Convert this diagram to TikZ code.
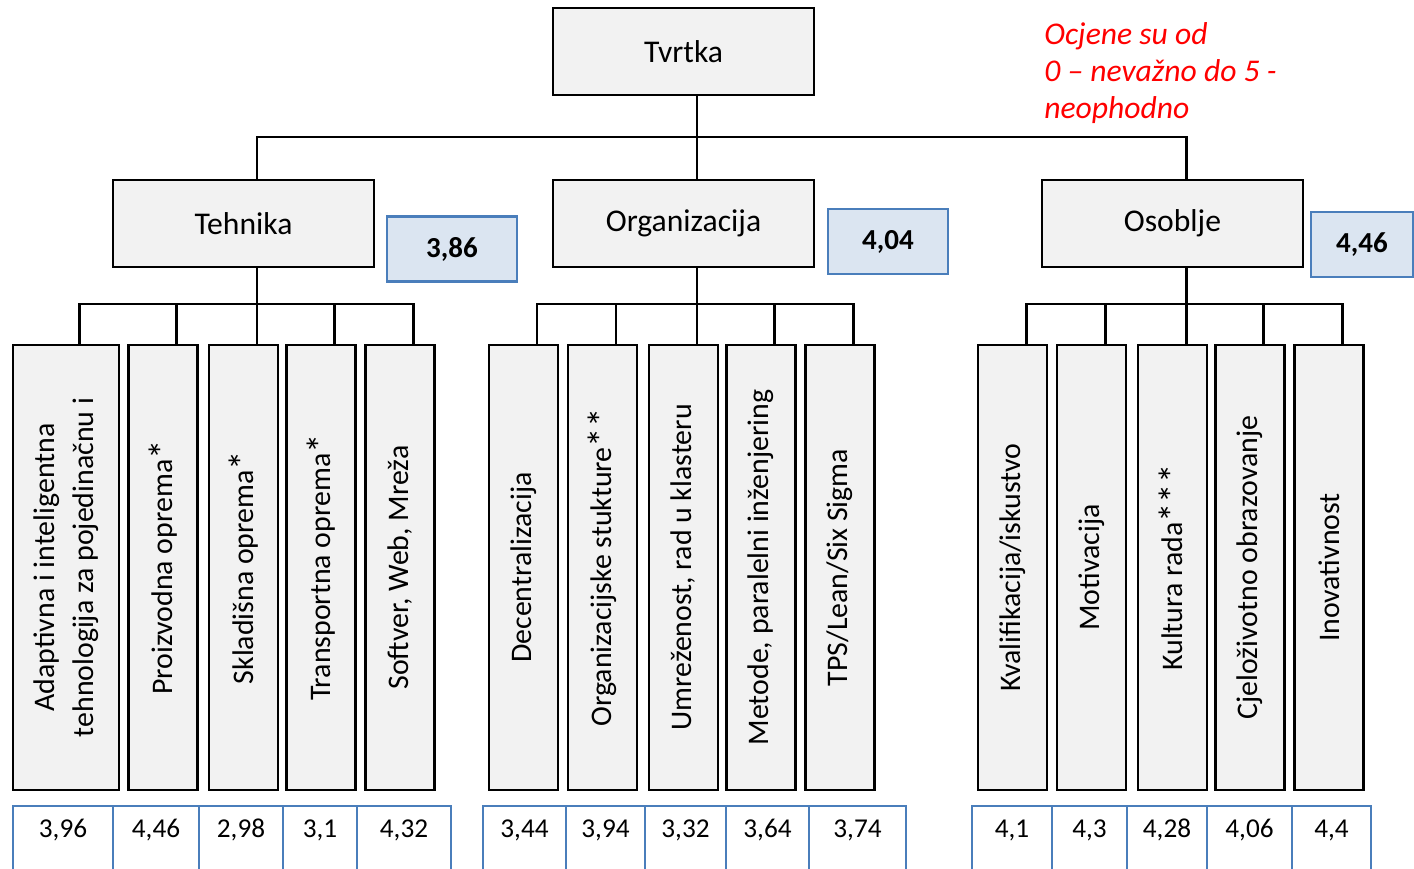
\documentclass[tikz,border=0pt]{standalone}
\usepackage{fontspec}
\setmainfont{Carlito}
\usepackage{graphicx}

\definecolor{boxgray}{HTML}{F2F2F2}
\definecolor{scoreblue}{HTML}{DBE5F1}
\definecolor{edgeblue}{HTML}{4A7EBB}

% larger footnote star
\newcommand{\fstar}{\raisebox{-0.12em}{\scalebox{1.3}{*}}}

\tikzset{
  unit/.style={draw, line width=1.6pt, fill=boxgray, font=\fontsize{18}{22}\selectfont,
    minimum width=5.22cm, minimum height=1.74cm},
  leaf/.style={draw, line width=1.6pt, fill=boxgray, font=\fontsize{17}{22}\selectfont,
    minimum width=1.38cm, minimum height=8.9cm, inner sep=0pt},
  score/.style={draw=edgeblue, line width=1.2pt, fill=scoreblue,
    font=\fontsize{16.5}{20}\selectfont\bfseries, minimum height=1.3cm},
  cell/.style={draw=edgeblue, line width=1.3pt, anchor=north, inner ysep=0pt,
    text height=0.63cm, text depth=0.97cm, font=\fontsize{15.5}{18}\selectfont},
  link/.style={line width=1.7pt}
}

\begin{document}
\begin{tikzpicture}[x=0.02cm, y=-0.02cm]
  \useasboundingbox (0,0) rectangle (1414,869);
  \clip (0,0) rectangle (1414,869);

  % upper levels
  \node[unit] (tvrtka) at (683.5,51.5) {Tvrtka};
  \node[unit] (teh) at (243.5,223.5) {Tehnika};
  \node[unit] (org) at (683.5,223.5) {Organizacija};
  \node[unit] (oso) at (1172.5,223.5) {Osoblje};

  \node[score, minimum width=2.6cm] (steh) at (452,249) {3,86};
  \node[score, minimum width=2.4cm] (sorg) at (888,241.5) {4,04};
  \node[score, minimum width=2.04cm] (soso) at (1362,244.5) {4,46};

  \node[text=red, font=\fontsize{18}{21}\selectfont\itshape, align=left,
    anchor=north west, inner sep=0pt] (note) at (1044,22)
    {Ocjene su od\\0 – nevažno do 5 -\\neophodno};

  % leaves
  \node[leaf, minimum width=2.12cm] (t1) at (66,567.5)
    {\rotatebox{90}{\begin{tabular}{@{}c@{}}Adaptivna i inteligentna\\tehnologija za pojedinačnu i\end{tabular}}};
  \foreach \n/\x/\t in {t2/163/{Proizvodna oprema\fstar}, t3/243.5/{Skladišna oprema\fstar},
      t4/321/{Transportna oprema\fstar}, t5/400/{Softver, Web, Mreža},
      o1/523.5/{Decentralizacija}, o2/602.5/{Organizacijske stukture\fstar\fstar},
      o3/683.5/{Umreženost, rad u klasteru}, o4/761/{Metode, paralelni inženjering},
      o5/840/{TPS/Lean/Six Sigma},
      p1/1012.5/{Kvalifikacija/iskustvo}, p2/1091.5/{Motivacija},
      p3/1172.5/{Kultura rada\fstar\fstar\fstar}, p4/1250/{Cjeloživotno obrazovanje},
      p5/1329/{Inovativnost}}
    \node[leaf] (\n) at (\x,567.5) {\rotatebox{90}{\t}};

  % connector points, a bit right of the box centres
  \def\off{0.27cm}
  \coordinate (top) at (0,137);
  \coordinate (low) at (0,304);
  \foreach \n in {tvrtka,teh,org,oso,t1,t2,t3,t4,t5,o1,o2,o3,o4,o5,p1,p2,p3,p4,p5}{
    \coordinate (\n-n) at ([xshift=\off]\n.north);
    \coordinate (\n-s) at ([xshift=\off]\n.south);
  }

  \draw[link] (tvrtka-s) -- (org-n);
  \draw[link] (teh-n) |- (oso-n |- top) -- (oso-n);

  \draw[link] (t1-n) |- (t5-n |- low) -- (t5-n);
  \draw[link] (teh-s) -- (t3-n);
  \draw[link] (o1-n) |- (o5-n |- low) -- (o5-n);
  \draw[link] (org-s) -- (o3-n);
  \draw[link] (p1-n) |- (p5-n |- low) -- (p5-n);
  \draw[link] (oso-s) -- (p3-n);
  \foreach \n in {t2,t4,o2,o4,p2,p4}
    \draw[link] (\n-n) -- (\n-n |- low);

  % values
  \foreach \a/\b/\v in {13/113/{3,96}, 113/199/{4,46}, 199/283/{2,98}, 283/357/{3,1},
      357/451/{4,32}, 483/566/{3,44}, 566/645/{3,94}, 645/726/{3,32}, 726/809/{3,64},
      809/906/{3,74}, 972/1052/{4,1}, 1052/1127/{4,3}, 1127/1207/{4,28},
      1207/1292/{4,06}, 1292/1371/{4,4}}
    \node[cell, minimum width={(\b-\a)*0.02cm}] (v\a) at ({(\a+\b)/2},805) {\v};
\end{tikzpicture}
\end{document}
